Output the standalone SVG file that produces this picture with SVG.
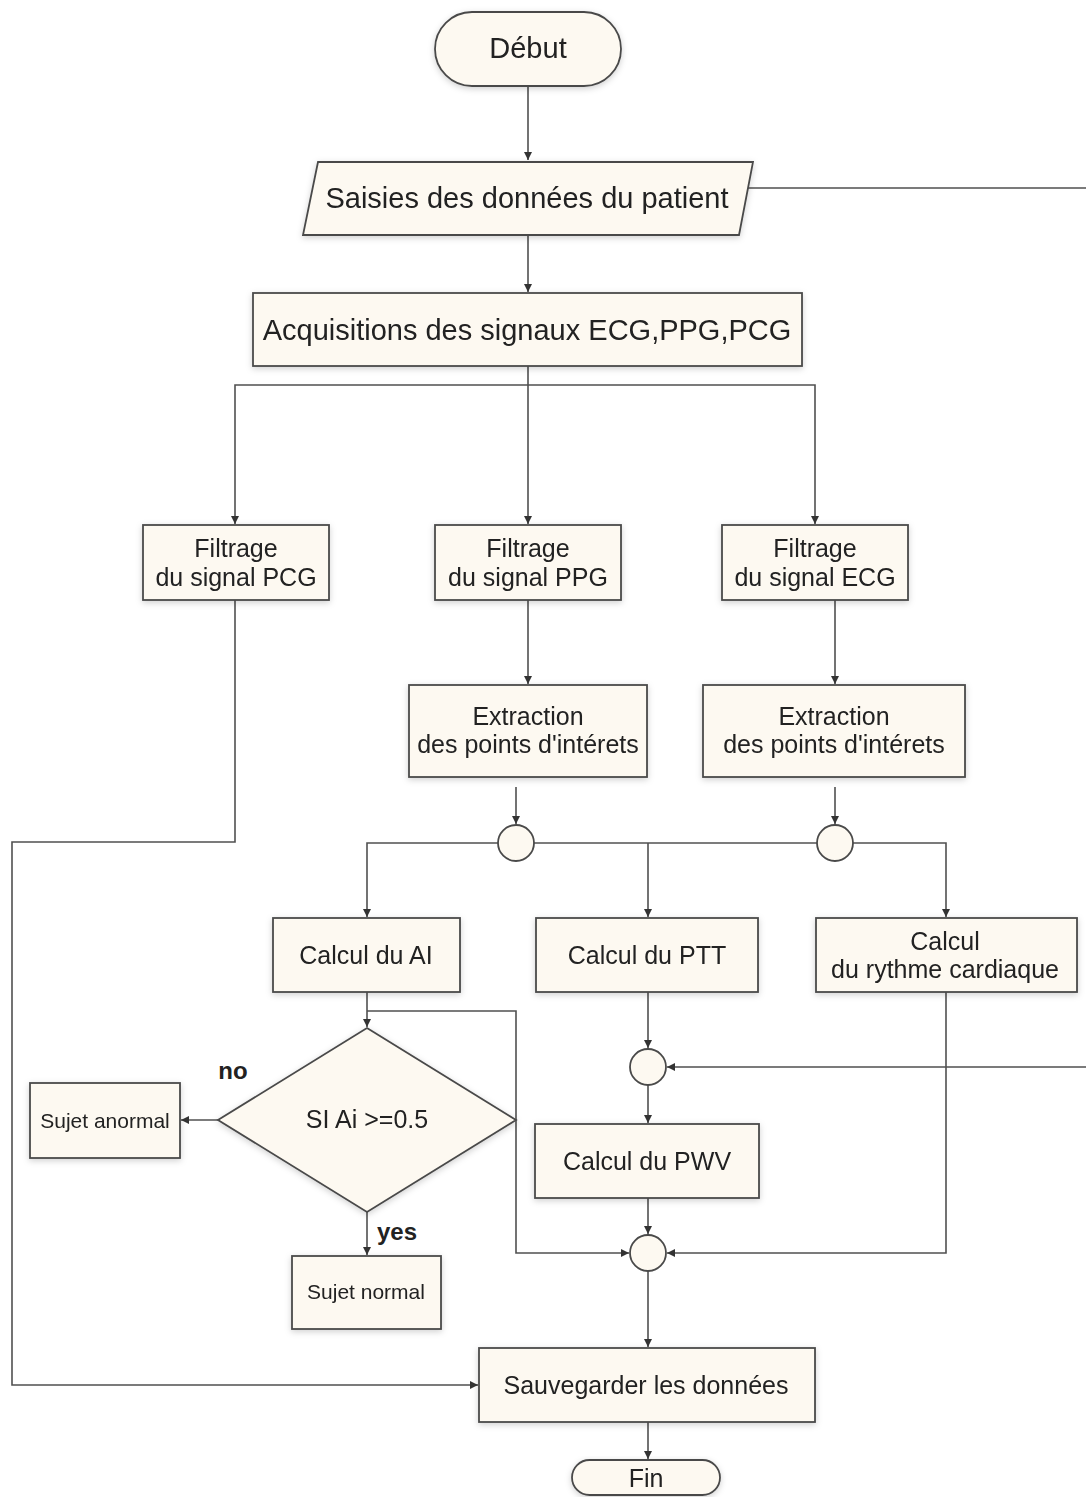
<svg xmlns="http://www.w3.org/2000/svg" width="1086" height="1497" viewBox="0 0 1086 1497">
<style>
.n{fill:#fdf9f1;stroke:#4a4a4a;stroke-width:1.8}
.c{fill:none;stroke:#505050;stroke-width:1.6}
.t{font-family:"Liberation Sans",Arial,sans-serif;fill:#222;text-anchor:middle;dominant-baseline:central}
.b{font-weight:bold}
</style>
<defs>
<marker id="a" viewBox="0 0 10 10" refX="10" refY="5" markerWidth="8" markerHeight="8" markerUnits="userSpaceOnUse" orient="auto"><path d="M0,0L10,5L0,10z" fill="#333"/></marker>
<filter id="s" x="-10%" y="-10%" width="120%" height="130%"><feDropShadow dx="0" dy="2" stdDeviation="3" flood-color="#000" flood-opacity="0.18"/></filter>
</defs>
<g id="connectors" class="c" marker-end="url(#a)">
<path d="M528,86V160"/>
<path d="M528,235V292"/>
<path d="M748,188H1100V1067H667"/>
<path d="M528,366V524"/>
<path d="M528,385H235V524"/>
<path d="M528,385H815V524"/>
<path d="M528,600V684"/>
<path d="M835,600V684"/>
<path d="M235,600V842H12V1385H478"/>
<path d="M516,787V824"/>
<path d="M835,787V824"/>
<path d="M498,843H367V917"/>
<path d="M534,843H817" marker-end="none"/>
<path d="M648,843V917"/>
<path d="M853,843H946V917"/>
<path d="M367,992V1027"/>
<path d="M367,1011H516V1253H629"/>
<path d="M218,1120H181"/>
<path d="M367,1212V1255"/>
<path d="M648,992V1048"/>
<path d="M648,1085V1123"/>
<path d="M648,1198V1234"/>
<path d="M946,992V1253H667"/>
<path d="M648,1271V1347"/>
<path d="M648,1422V1459"/>
</g>
<g id="debut" filter="url(#s)"><rect class="n" x="435" y="12" width="186" height="74" rx="37"/><text class="t" x="528" y="48" font-size="29">Début</text></g>
<g id="saisies" filter="url(#s)"><polygon class="n" points="318,162 753,162 739,235 303,235"/><text class="t" x="527" y="198" font-size="29">Saisies des données du patient</text></g>
<g id="acquisitions" filter="url(#s)"><rect class="n" x="253" y="293" width="549" height="73"/><text class="t" x="527" y="330" font-size="29">Acquisitions des signaux ECG,PPG,PCG</text></g>
<g id="filtrage-pcg" filter="url(#s)"><rect class="n" x="143" y="525" width="186" height="75"/><text class="t" x="236" y="548" font-size="25">Filtrage</text><text class="t" x="236" y="577" font-size="25">du signal PCG</text></g>
<g id="filtrage-ppg" filter="url(#s)"><rect class="n" x="435" y="525" width="186" height="75"/><text class="t" x="528" y="548" font-size="25">Filtrage</text><text class="t" x="528" y="577" font-size="25">du signal PPG</text></g>
<g id="filtrage-ecg" filter="url(#s)"><rect class="n" x="722" y="525" width="186" height="75"/><text class="t" x="815" y="548" font-size="25">Filtrage</text><text class="t" x="815" y="577" font-size="25">du signal ECG</text></g>
<g id="extraction-ppg" filter="url(#s)"><rect class="n" x="409" y="685" width="238" height="92"/><text class="t" x="528" y="716" font-size="25">Extraction</text><text class="t" x="528" y="744" font-size="25">des points d'intérets</text></g>
<g id="extraction-ecg" filter="url(#s)"><rect class="n" x="703" y="685" width="262" height="92"/><text class="t" x="834" y="716" font-size="25">Extraction</text><text class="t" x="834" y="744" font-size="25">des points d'intérets</text></g>
<g id="j1"><circle class="n" cx="516" cy="843" r="18"/></g>
<g id="j2"><circle class="n" cx="835" cy="843" r="18"/></g>
<g id="calcul-ai" filter="url(#s)"><rect class="n" x="273" y="918" width="187" height="74"/><text class="t" x="366" y="955" font-size="25">Calcul du AI</text></g>
<g id="calcul-ptt" filter="url(#s)"><rect class="n" x="536" y="918" width="222" height="74"/><text class="t" x="647" y="955" font-size="25">Calcul du PTT</text></g>
<g id="calcul-rythme" filter="url(#s)"><rect class="n" x="816" y="918" width="261" height="74"/><text class="t" x="945" y="941" font-size="25">Calcul</text><text class="t" x="945" y="969" font-size="25">du rythme cardiaque</text></g>
<g id="decision" filter="url(#s)"><polygon class="n" points="367,1028 516,1120 367,1212 218,1120"/><text class="t" x="367" y="1119" font-size="25">SI Ai &gt;=0.5</text></g>
<text class="t b" x="233" y="1070" font-size="24">no</text>
<text class="t b" x="397" y="1231" font-size="24">yes</text>
<g id="sujet-anormal" filter="url(#s)"><rect class="n" x="30" y="1083" width="150" height="75"/><text class="t" x="105" y="1120" font-size="21">Sujet anormal</text></g>
<g id="sujet-normal" filter="url(#s)"><rect class="n" x="292" y="1256" width="149" height="73"/><text class="t" x="366" y="1291" font-size="21">Sujet normal</text></g>
<g id="j3"><circle class="n" cx="648" cy="1067" r="18"/></g>
<g id="calcul-pwv" filter="url(#s)"><rect class="n" x="535" y="1124" width="224" height="74"/><text class="t" x="647" y="1161" font-size="25">Calcul du PWV</text></g>
<g id="j4"><circle class="n" cx="648" cy="1253" r="18"/></g>
<g id="sauvegarder" filter="url(#s)"><rect class="n" x="479" y="1348" width="336" height="74"/><text class="t" x="646" y="1385" font-size="25">Sauvegarder les données</text></g>
<g id="fin" filter="url(#s)"><rect class="n" x="572" y="1460" width="148" height="35" rx="17.5"/><text class="t" x="646" y="1478" font-size="25">Fin</text></g>
</svg>
